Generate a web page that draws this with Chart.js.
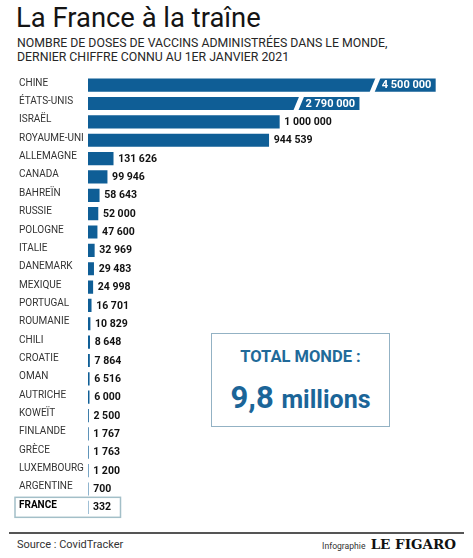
<!DOCTYPE html>
<html lang="fr">
<head>
<meta charset="utf-8">
<title>La France à la traîne</title>
<script src="https://cdn.jsdelivr.net/npm/chart.js@4/dist/chart.umd.min.js"></script>
<style>
  html, body { margin: 0; padding: 0; background: #fff }
  body { width: 473px; height: 558px; position: relative; overflow: hidden; font-family: Roboto, sans-serif; color: #222 }
  .abs { position: absolute; white-space: nowrap }
  #title { left: 16px; top: 5px; font-size: 27.4px; line-height: 27px; color: #141414 }
  #subtitle { left: 17px; top: 36px; font-size: 12.3px; line-height: 14.4px; color: #262626 }
  #chart { position: absolute; left: 0; top: 66px }
  #total { left: 211px; top: 333px; width: 179px; height: 94px; box-sizing: border-box; border: 1.5px solid #93b2c4; background: #fff }
  #total-label { left: 211px; top: 349px; width: 179px; text-align: center; font-size: 16.5px; line-height: 16.5px; font-weight: 700; color: #216a99 }
  #total-value { left: 211px; top: 382px; width: 179px; text-align: center; font-size: 31px; line-height: 31px; font-weight: 700; color: #1b6598 }
  #total-value span { font-size: 25px }
  #rule { left: 9px; top: 532px; width: 455px; height: 2px; background: #555 }
  #source { left: 17px; top: 538.5px; font-size: 11px; line-height: 11px; color: #333 }
  #credit { right: 17px; top: 537px; font-size: 8.6px; line-height: 14px; color: #333 }
  #credit b { font-family: "DejaVu Serif", serif; font-size: 13.5px; color: #111; margin-left: 3px }
</style>
</head>
<body>
<div id="title" class="abs">La France à la traîne</div>
<div id="subtitle" class="abs">NOMBRE DE DOSES DE VACCINS ADMINISTRÉES DANS LE MONDE,<br>DERNIER CHIFFRE CONNU AU 1ER JANVIER 2021</div>
<canvas id="chart" width="473" height="460"></canvas>
<div id="total" class="abs"></div>
<div id="total-label" class="abs">TOTAL MONDE :</div>
<div id="total-value" class="abs">9,8 <span>millions</span></div>
<div id="rule" class="abs"></div>
<div id="source" class="abs">Source : CovidTracker</div>
<div id="credit" class="abs">Infographie <b>LE FIGARO</b></div>
<script>
var
    countries = ['CHINE', 'ÉTATS-UNIS', 'ISRAËL', 'ROYAUME-UNI', 'ALLEMAGNE', 'CANADA', 'BAHREÏN', 'RUSSIE',
                 'POLOGNE', 'ITALIE', 'DANEMARK', 'MEXIQUE', 'PORTUGAL', 'ROUMANIE', 'CHILI', 'CROATIE',
                 'OMAN', 'AUTRICHE', 'KOWEÏT', 'FINLANDE', 'GRÈCE', 'LUXEMBOURG', 'ARGENTINE', 'FRANCE']
  , doses     = [4500000, 2790000, 1000000, 944539, 131626, 99946, 58643, 52000,
                 47600, 32969, 29483, 24998, 16701, 10829, 8648, 7864,
                 6516, 6000, 2500, 1767, 1763, 1200, 700, 332]
  , highlight = 'FRANCE'

// bars above the break are squeezed (broken bar, as in the print version)
var
    breakFrom = 1000000
  , squeeze   = 0.233
  , barBlue   = '#0f5e96'

var shown = function (v) {
  return v > breakFrom ? breakFrom + (v - breakFrom) * squeeze : v
}

var fmt = function (v) {
  return String(v).replace(/\B(?=(\d{3})+(?!\d))/g, ' ')
}

var valueLabels = {
  id: 'valueLabels',
  afterDatasetsDraw: function (chart) {
    var
        ctx  = chart.ctx
      , meta = chart.getDatasetMeta(0)

    ctx.save()
    ctx.textBaseline = 'middle'
    ctx.font = 'bold 10.5px Roboto'
    meta.data.forEach(function (bar, i) {
      var
          v    = doses[i]
        , text = fmt(v)
        , tw   = ctx.measureText(text).width
        , top  = bar.y - bar.height / 2
        , bot  = bar.y + bar.height / 2

      if (v > breakFrom) {
        // slanted white gap before the number box
        var mid = bar.x - 4 - tw - 9
        ctx.fillStyle = '#fff'
        ctx.beginPath()
        ctx.moveTo(mid + 0.5, top - 1)
        ctx.lineTo(mid + 5.5, top - 1)
        ctx.lineTo(mid - 0.5, bot + 1)
        ctx.lineTo(mid - 5.5, bot + 1)
        ctx.closePath()
        ctx.fill()
        ctx.fillStyle = '#fff'
        ctx.textAlign = 'right'
        ctx.font = 'bold 11px Roboto'
        ctx.fillText(text, bar.x - 4, bar.y + 0.5)
        ctx.font = 'bold 10.5px Roboto'
      } else {
        ctx.fillStyle = '#111'
        ctx.textAlign = 'left'
        ctx.fillText(text, bar.x + 5, bar.y + 0.5)
      }
    })

    // frame round the highlighted country
    var
        y     = chart.scales.y.getPixelForValue(countries.indexOf(highlight))
    ctx.strokeStyle = '#a3bfc8'
    ctx.lineWidth = 1.5
    ctx.strokeRect(15, y - 10, 105.5, 20)
    ctx.restore()
  }
}

new Chart(document.getElementById('chart'), {
    type: 'bar'
  , data: {
        labels: countries
      , datasets: [{
            data: doses.map(shown)
          , backgroundColor: barBlue
          , barThickness: 12.5
        }]
    }
  , options: {
        indexAxis: 'y'
      , responsive: false
      , animation: false
      , layout: { padding: { left: 19, right: 10, top: 10, bottom: 9.5 } }
      , plugins: { legend: { display: false }, tooltip: { enabled: false } }
      , scales: {
            x: { display: false, min: 0, max: 1960000 }
          , y: {
                grid: { display: false }
              , border: { display: false }
              , afterFit: function (scale) { scale.width = 69 }
              , ticks: {
                    crossAlign: 'far'
                  , labelOffset: -2
                  , color: function (c) { return countries[c.index] === highlight ? '#000' : '#333' }
                  , font: function (c) {
                      return countries[c.index] === highlight
                        ? { family: 'Roboto', size: 10, weight: 'bold' }
                        : { family: 'Roboto', size: 10 }
                    }
                }
            }
        }
    }
  , plugins: [valueLabels]
})
</script>
</body>
</html>
